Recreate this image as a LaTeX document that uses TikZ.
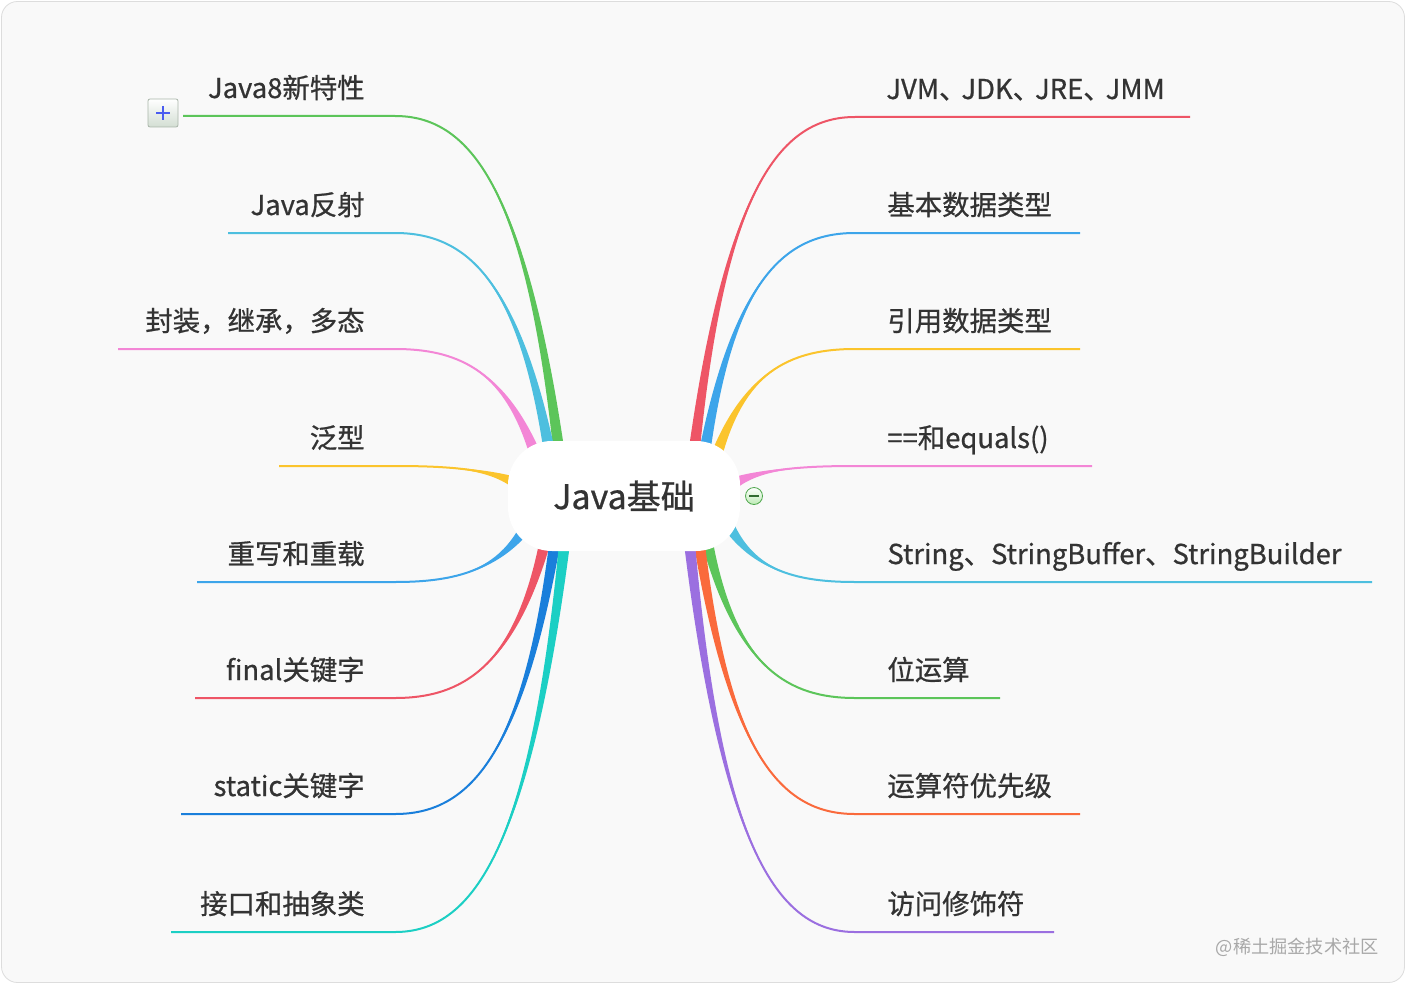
\documentclass[tikz,border=0pt]{standalone}
\usepackage{fontspec}
\setmainfont{Noto Sans CJK SC}[FakeBold=0.7]
\newfontfamily\markfont{Noto Sans CJK SC}
\usetikzlibrary{positioning, calc, backgrounds}

\definecolor{pagebg}{HTML}{F9F9F9}
\definecolor{pageline}{HTML}{DDDDDD}
\definecolor{textgray}{HTML}{333333}
\definecolor{markgray}{HTML}{A8A8A8}
\definecolor{bgreen}{HTML}{5CC55A}
\definecolor{bcyan}{HTML}{4DBFDF}
\definecolor{bpink}{HTML}{F386D6}
\definecolor{byellow}{HTML}{FBC42C}
\definecolor{bblue}{HTML}{3DA5EA}
\definecolor{bred}{HTML}{EE5566}
\definecolor{bnavy}{HTML}{1A7FDB}
\definecolor{bteal}{HTML}{1CCFC4}
\definecolor{borange}{HTML}{FA6A3C}
\definecolor{bpurple}{HTML}{9B6FE0}
\definecolor{foldline}{HTML}{A9B5A9}
\definecolor{foldfill}{HTML}{D3DED3}
\definecolor{plusblue}{HTML}{4A5CF0}
\definecolor{openfill}{HTML}{BDEBB5}

% tapered branch: colour, start, control 1, control 2, elbow, end of underline
\newcommand{\branch}[6]{%
  \fill[#1] ($(#2)!2.7pt!90:(#3)$) .. controls (#3) and (#4) .. (#5)
    .. controls (#4) and (#3) .. ($(#2)!2.7pt!-90:(#3)$) -- cycle;
  \draw[#1, line width=1pt] (#2) .. controls (#3) and (#4) .. (#5) -- (#6);
}

\begin{document}
\begin{tikzpicture}[x=0.5pt, y=-0.5pt,
  root/.style={fill=white, rounded corners=22pt, minimum width=116pt, minimum height=55pt, inner sep=0pt, text=textgray, font=\fontsize{17}{20}\selectfont},
  leftlabel/.style={anchor=base east, inner sep=0pt, text=textgray, font=\fontsize{13.7}{16}\selectfont},
  rightlabel/.style={leftlabel, anchor=base west},
  foldbox/.style={draw=foldline, top color=white, bottom color=foldfill, rounded corners=1pt, minimum width=15pt, minimum height=14pt, inner sep=0pt},
  foldmark/.style={draw=plusblue, line width=0.6pt},
  openmark/.style={circle, draw=bgreen!85!black, top color=white, bottom color=openfill, minimum size=8.5pt, inner sep=0pt}]
\useasboundingbox (0,0) rectangle (1406,984);
\node[root] (root) at (624,496) {Java基础};

% left side
\coordinate (a1) at ($(root.center)+(-66,-52)$); \coordinate (a1e) at (395,116); \coordinate (a1u) at (183,116);
\coordinate (a2) at ($(root.center)+(-76,-52)$); \coordinate (a2e) at (395,233); \coordinate (a2u) at (228,233);
\coordinate (a3) at ($(root.center)+(-90,-45)$); \coordinate (a3e) at (395,349); \coordinate (a3u) at (118,349);
\coordinate (a4) at ($(root.center)+(-110,-14)$); \coordinate (a4e) at (395,466); \coordinate (a4u) at (279,466);
\coordinate (a5) at ($(root.center)+(-100,34)$); \coordinate (a5e) at (395,582); \coordinate (a5u) at (197,582);
\coordinate (a6) at ($(root.center)+(-80,50)$); \coordinate (a6e) at (395,698); \coordinate (a6u) at (195,698);
\coordinate (a7) at ($(root.center)+(-70,52)$); \coordinate (a7e) at (395,814); \coordinate (a7u) at (181,814);
\coordinate (a8) at ($(root.center)+(-60,52)$); \coordinate (a8e) at (395,932); \coordinate (a8u) at (171,932);
\node[leftlabel] (java8) at ($(a1e)+(-30,-18)$) {Java8新特性};
\node[leftlabel] (reflect) at ($(a2e)+(-30,-18)$) {Java反射};
\node[leftlabel] (oop) at ($(a3e)+(-30,-18)$) {封装，继承，多态};
\node[leftlabel] (generic) at ($(a4e)+(-30,-18)$) {泛型};
\node[leftlabel] (override) at ($(a5e)+(-30,-18)$) {重写和重载};
\node[leftlabel] (final) at ($(a6e)+(-30,-18)$) {final关键字};
\node[leftlabel] (static) at ($(a7e)+(-30,-18)$) {static关键字};
\node[leftlabel] (iface) at ($(a8e)+(-30,-18)$) {接口和抽象类};

% right side
\coordinate (b1) at ($(root.center)+(71,-52)$); \coordinate (b1e) at (855,117); \coordinate (b1u) at (1190,117);
\coordinate (b2) at ($(root.center)+(82,-52)$); \coordinate (b2e) at (855,233); \coordinate (b2u) at (1080,233);
\coordinate (b3) at ($(root.center)+(94,-45)$); \coordinate (b3e) at (855,349); \coordinate (b3u) at (1080,349);
\coordinate (b4) at ($(root.center)+(112,-14)$); \coordinate (b4e) at (855,466); \coordinate (b4u) at (1092,466);
\coordinate (b5) at ($(root.center)+(106,32)$); \coordinate (b5e) at (855,582); \coordinate (b5u) at (1372,582);
\coordinate (b6) at ($(root.center)+(84,49)$); \coordinate (b6e) at (855,698); \coordinate (b6u) at (1000,698);
\coordinate (b7) at ($(root.center)+(76,52)$); \coordinate (b7e) at (855,814); \coordinate (b7u) at (1080,814);
\coordinate (b8) at ($(root.center)+(66,52)$); \coordinate (b8e) at (855,932); \coordinate (b8u) at (1054,932);
\node[rightlabel] (jvm) at ($(b1e)+(31,-18)$) {JVM、\hspace{-2.5pt}JDK、\hspace{-2.5pt}JRE、\hspace{-2.5pt}JMM};
\node[rightlabel] (prim) at ($(b2e)+(32,-18)$) {基本数据类型};
\node[rightlabel] (ref) at ($(b3e)+(32,-18)$) {引用数据类型};
\node[rightlabel] (equals) at ($(b4e)+(32,-18)$) {==和equals()};
\node[rightlabel] (string) at ($(b5e)+(32,-18)$) {String、StringBuffer、StringBuilder};
\node[rightlabel] (bits) at ($(b6e)+(32,-18)$) {位运算};
\node[rightlabel] (prec) at ($(b7e)+(32,-18)$) {运算符优先级};
\node[rightlabel] (access) at ($(b8e)+(32,-18)$) {访问修饰符};

% fold / unfold marks
\node[foldbox] (fold) at (163,113) {};
\draw[foldmark] ($(fold.center)+(-7,0)$) -- ($(fold.center)+(7,0)$) ($(fold.center)+(0,-7)$) -- ($(fold.center)+(0,7)$);
\node[openmark] (open) at (754,496) {};
\draw[bgreen!55!black, line width=0.8pt] ($(open.center)+(-5,0)$) -- ($(open.center)+(5,0)$);

\node[anchor=base east, inner sep=0pt, text=markgray, font=\markfont\fontsize{9.1}{12}\selectfont] (mark) at (1379,953) {@稀土掘金技术社区};

\begin{scope}[on background layer]
\fill[white] (0,0) rectangle (1406,984);
\draw[pageline, fill=pagebg, rounded corners=8pt] (1.5,1.5) rectangle (1404.5,982.5);
\branch{bgreen}{a1}{524,182}{467,116}{a1e}{a1u}
\branch{bcyan}{a2}{516,275}{463,233}{a2e}{a2u}
\branch{bpink}{a3}{503,369}{456,349}{a3e}{a3u}
\branch{byellow}{a4}{487,469}{447,466}{a4e}{a4u}
\branch{bblue}{a5}{495,572}{451,582}{a5e}{a5u}
\branch{bred}{a6}{513,668}{461,698}{a6e}{a6u}
\branch{bnavy}{a7}{521,761}{466,814}{a7e}{a7u}
\branch{bteal}{a8}{529,856}{470,932}{a8e}{a8u}
\branch{bred}{b1}{727,183}{783,117}{b1e}{b1u}
\branch{bblue}{b2}{736,275}{788,233}{b2e}{b2u}
\branch{byellow}{b3}{747,369}{794,349}{b3e}{b3u}
\branch{bpink}{b4}{763,469}{803,466}{b4e}{b4u}
\branch{bcyan}{b5}{757,572}{800,582}{b5e}{b5u}
\branch{bgreen}{b6}{737,668}{789,698}{b6e}{b6u}
\branch{borange}{b7}{731,761}{785,814}{b7e}{b7u}
\branch{bpurple}{b8}{723,856}{781,932}{b8e}{b8u}
\end{scope}
\end{tikzpicture}
\end{document}
